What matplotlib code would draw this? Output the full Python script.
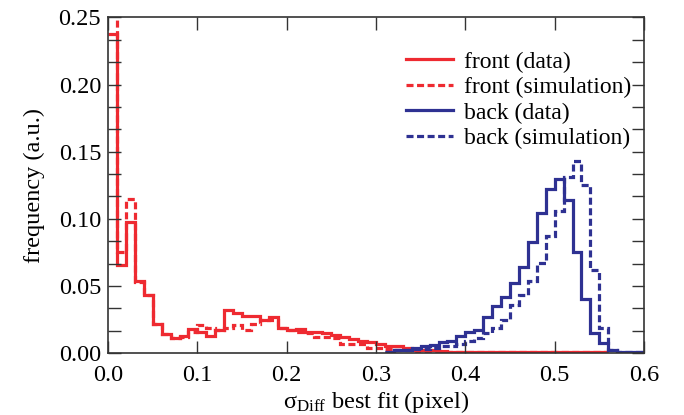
import numpy as np
import matplotlib
matplotlib.use("Agg")
import matplotlib.pyplot as plt
from matplotlib.ticker import MultipleLocator, AutoMinorLocator, FormatStrFormatter

# histogram bins of 0.01 pixel
bin_width = 0.01

# front plane, bins starting at 0.00
front_data = [0.238, 0.066, 0.098, 0.054, 0.043, 0.022, 0.014, 0.011, 0.013, 0.018,
              0.016, 0.013, 0.017, 0.032, 0.030, 0.028, 0.028, 0.025, 0.027, 0.019,
              0.017, 0.018, 0.016, 0.016, 0.015, 0.0136, 0.012, 0.0104, 0.0094, 0.008,
              0.007, 0.0054, 0.005, 0.0037, 0.0025, 0.0022, 0.002, 0.0015, 0.001, 0.0008,
              0.0008, 0.0008, 0.0008, 0.0008, 0.0008, 0.0008, 0.0008, 0.0008, 0.0008, 0.0008,
              0.0008, 0.0008, 0.0008, 0.0008, 0.0008, 0.0008]
front_sim = [0.27, 0.0756, 0.115, 0.053, 0.043, 0.022, 0.014, 0.011, 0.012, 0.016,
             0.021, 0.019, 0.017, 0.019, 0.021, 0.017, 0.022, 0.025, 0.025, 0.019,
             0.017, 0.016, 0.015, 0.0124, 0.012, 0.011, 0.007, 0.007, 0.007, 0.004,
             0.0037, 0.003, 0.002, 0.002, 0.0015, 0.001, 0.001, 0.0006, 0.0006, 0.0006,
             0.0006, 0.0006, 0.0006, 0.0006, 0.0006, 0.0006, 0.0006, 0.0006, 0.0006, 0.0006,
             0.0006, 0.0006, 0.0006, 0.0006, 0.0006, 0.0006]

# back plane, bins starting at 0.31
back_start = 0.31
back_data = [0.001, 0.002, 0.002, 0.004, 0.005, 0.006, 0.008, 0.009, 0.013, 0.016,
             0.017, 0.027, 0.035, 0.042, 0.052, 0.0645, 0.083, 0.104, 0.122, 0.130,
             0.114, 0.0756, 0.0404, 0.0153, 0.0074, 0.0025, 0.001, 0.001, 0.0005]
back_sim = [0.001, 0.002, 0.002, 0.003, 0.003, 0.004, 0.005, 0.005, 0.007, 0.009,
            0.011, 0.015, 0.019, 0.025, 0.036, 0.043, 0.054, 0.067, 0.087, 0.106,
            0.131, 0.143, 0.125, 0.062, 0.019, 0.002, 0.001, 0.0005, 0.0005]

red = "#ee2a31"
blue = "#2e3192"

plt.rcParams["font.family"] = ["Liberation Serif", "DejaVu Serif"]
plt.rcParams["mathtext.fontset"] = "custom"
plt.rcParams["mathtext.rm"] = "Liberation Serif"

fig = plt.figure(figsize=(6.84, 4.15), dpi=100)
ax = fig.add_axes([0.158, 0.149, 0.7835, 0.809])

front_edges = np.arange(len(front_data) + 1) * bin_width
back_edges = back_start + np.arange(len(back_data) + 1) * bin_width

lw = 2.3
dash = (0, (2.2, 1.1))
ax.stairs(front_data, front_edges, baseline=None, color=red, lw=lw,
          label="front (data)")
ax.stairs(front_sim, front_edges, baseline=None, color=red, lw=lw,
          linestyle=dash, label="front (simulation)")
ax.stairs(back_data, back_edges, baseline=None, color=blue, lw=lw,
          label="back (data)")
ax.stairs(back_sim, back_edges, baseline=None, color=blue, lw=lw,
          linestyle=dash, label="back (simulation)")

ax.set_xlim(0, 0.6)
ax.set_ylim(0, 0.25)
ax.xaxis.set_major_locator(MultipleLocator(0.1))
ax.yaxis.set_major_locator(MultipleLocator(0.05))
ax.yaxis.set_minor_locator(AutoMinorLocator(3))
ax.xaxis.set_major_formatter(FormatStrFormatter("%.1f"))
ax.yaxis.set_major_formatter(FormatStrFormatter("%.2f"))
ax.tick_params(which="both", direction="in", top=True, right=True,
               length=9, width=1.0, color="#333333", labelsize=17.5, pad=5)
ax.tick_params(axis="x", pad=8.5)
for s in ax.spines.values():
    s.set_linewidth(1.2)
    s.set_color("#333333")

ax.set_xlabel(r"$\mathrm{σ_{Diff}}$ best fit (pixel)", fontsize=17.5, labelpad=2)
ax.set_ylabel("frequency (a.u.)", fontsize=17.5, labelpad=10)

ax.legend(loc="upper right", bbox_to_anchor=(1.015, 0.963), frameon=False,
          fontsize=17, handlelength=2.0, handletextpad=0.45, labelspacing=0.17)

fig.savefig("out.png", dpi=100)
